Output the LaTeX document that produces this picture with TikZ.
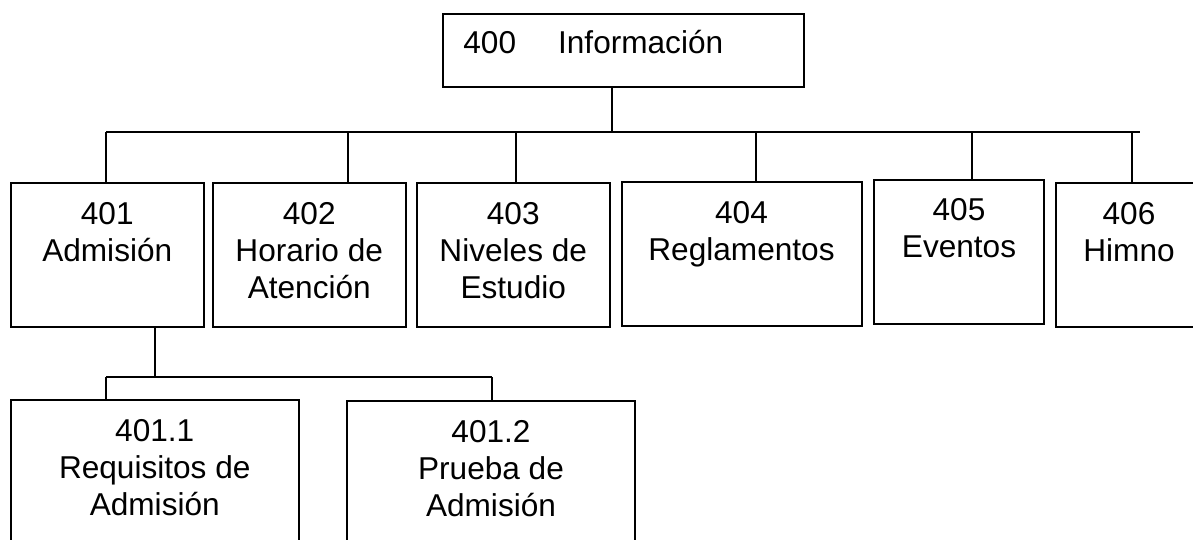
\documentclass[tikz,border=0pt]{standalone}
\usepackage{fontspec}
\setmainfont{Liberation Sans}
\begin{document}
\begin{tikzpicture}[x=0.5pt,y=-0.5pt,
        box/.style={draw=black,line width=1pt,inner sep=0pt,minimum height=72pt},
        txt/.style={inner sep=0pt,align=center,font=\fontsize{15.8}{18.5}\selectfont},
        lbl/.style={txt,anchor=north,yshift=-10pt},
        link/.style={draw=black,line width=1pt}]
                \useasboundingbox (0,0) rectangle (1193,540);
                \clip (0,0) rectangle (1193,540);
                % raiz
                \node [box,minimum width=180.5pt,minimum height=36.5pt] (b400) at (623.5,50.5) {};
                \node [txt,anchor=base west] (t400) at (463,54) {400\hspace{21pt}Información};
                % primer nivel
                \node [box,minimum width=96.25pt] (b401) at (107.25,255) {};
                \node [lbl] (t401) at (b401.north) {401\\Admisión};
                \node [box,minimum width=96.25pt] (b402) at (309.25,255) {};
                \node [lbl] (t402) at (b402.north) {402\\Horario de\\Atención};
                \node [box,minimum width=96.25pt] (b403) at (513.25,255) {};
                \node [lbl] (t403) at (b403.north) {403\\Niveles de\\Estudio};
                \node [box,minimum width=120pt] (b404) at (741.5,254) {};
                \node [lbl] (t404) at (b404.north) {404\\Reglamentos};
                \node [box,minimum width=85pt,minimum height=72.25pt] (b405) at (959,251.75) {};
                \node [lbl] (t405) at (b405.north) {405\\Eventos};
                \node [box,minimum width=73pt] (b406) at (1129,255) {};
                \node [lbl] (t406) at (b406.north) {406\\Himno};
                % segundo nivel
                \node [box,minimum width=143.75pt] (b4011) at (154.75,472) {};
                \node [lbl] (t4011) at (b4011.north) {401.1\\Requisitos de\\Admisión};
                \node [box,minimum width=144pt] (b4012) at (491,473) {};
                \node [lbl] (t4012) at (b4012.north) {401.2\\Prueba de\\Admisión};
                % barra principal
                \coordinate (s400) at (612,132);
                \coordinate (s401) at (106,132);
                \coordinate (s402) at (348,132);
                \coordinate (s403) at (516,132);
                \coordinate (s404) at (756,132);
                \coordinate (s405) at (972,132);
                \coordinate (s406) at (1132,132);
                \coordinate (busR) at (1140,132);
                \draw [link] (s401) -- (busR);
                \draw [link] (s400 |- b400.south) -- (s400);
                \draw [link] (s401) -- (s401 |- b401.north);
                \draw [link] (s402) -- (s402 |- b402.north);
                \draw [link] (s403) -- (s403 |- b403.north);
                \draw [link] (s404) -- (s404 |- b404.north);
                \draw [link] (s405) -- (s405 |- b405.north);
                \draw [link] (s406) -- (s406 |- b406.north);
                % barra de admision
                \coordinate (j401) at (155,377);
                \coordinate (subL) at (106,377);
                \coordinate (subR) at (492,377);
                \draw [link] (j401 |- b401.south) -- (j401);
                \draw [link] (subL) -- (subR);
                \draw [link] (subL) -- (subL |- b4011.north);
                \draw [link] (subR) -- (subR |- b4012.north);
\end{tikzpicture}
\end{document}
